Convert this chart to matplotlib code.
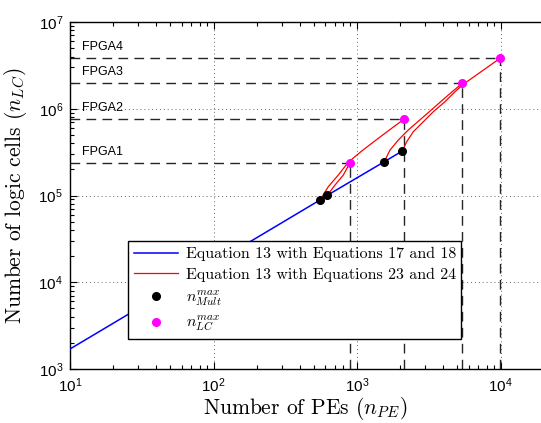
import math
import matplotlib
matplotlib.use("Agg")
import matplotlib.pyplot as plt
from matplotlib.ticker import LogLocator, FixedLocator, FuncFormatter, NullFormatter

plt.rcParams['mathtext.fontset'] = 'cm'
plt.rcParams['mathtext.rm'] = 'Liberation Sans'
plt.rcParams['axes.unicode_minus'] = False

# ---- data ----
blue_x = [10, 552, 621, 1549, 2069]
blue_y = [1.70e3, 8.87e4, 1.005e5, 2.45e5, 3.26e5]

red1_x = [621, 703, 803, 894]
red1_y = [1.005e5, 1.321e5, 1.723e5, 2.39e5]
red2_x = [552, 631, 741, 869, 1079, 1407, 1746, 2120]
red2_y = [8.87e4, 1.263e5, 1.723e5, 2.415e5, 3.26e5, 4.56e5, 5.96e5, 7.55e5]
red3_x = [1549, 1698, 1940, 2277, 2825, 3498, 4327, 5420]
red3_y = [2.45e5, 3.34e5, 4.36e5, 5.69e5, 7.76e5, 1.056e6, 1.44e6, 1.97e6]
red4_x = [2069, 2220, 2468, 2825, 3404, 4103, 4819, 5505, 7430, 9950]
red4_y = [3.26e5, 4.17e5, 5.44e5, 6.79e5, 9.25e5, 1.206e6, 1.573e6, 1.914e6, 2.72e6, 3.82e6]

mult_x = [552, 621, 1549, 2069]
mult_y = [8.87e4, 1.005e5, 2.45e5, 3.26e5]

lc_x = [894, 2120, 5420, 9950]
lc_y = [2.39e5, 7.55e5, 1.97e6, 3.82e6]
fpga_labels = ['FPGA1', 'FPGA2', 'FPGA3', 'FPGA4']

x_ticks = [1e1, 1e2, 1e3, 1e4, 1e5]
y_ticks = [1e3, 1e4, 1e5, 1e6, 1e7]

# ---- figure ----
W, H = 541, 423
fig = plt.figure(figsize=(W / 100, H / 100), dpi=100)
ax_l, ax_r, ax_t, ax_b = 70, 70 + 4 * 143.5, 22, 369
ax = fig.add_axes([ax_l / W, (H - ax_b) / H, (ax_r - ax_l) / W, (ax_b - ax_t) / H])
ax.set_xscale('log')
ax.set_yscale('log')
ax.set_xlim(x_ticks[0], x_ticks[-1])
ax.set_ylim(y_ticks[0], y_ticks[-1])

# grid (major, dotted)
ax.grid(True, which='major', linestyle=(0, (1, 3)), color='0.4', linewidth=0.7)
ax.set_axisbelow(True)

# FPGA dashed guide lines
dash_kw = dict(color='0.15', linewidth=1.0, dashes=(7, 4.5), zorder=2)
for xv, yv, lab in zip(lc_x, lc_y, fpga_labels):
    ax.plot([x_ticks[0], xv], [yv, yv], **dash_kw)
    ax.plot([xv, xv], [y_ticks[0], yv], **dash_kw)
    ax.annotate(lab, xy=(12.2, yv), xytext=(0, 3.5), textcoords='offset points',
                ha='left', va='bottom', fontsize=9, family='Liberation Sans')

# curves
ax.plot(blue_x, blue_y, color='#0000ff', linewidth=1.1, zorder=3,
        label='Equation 13 with Equations 17 and 18')
ax.plot(red1_x, red1_y, color='#ff0000', linewidth=0.9, zorder=3,
        label='Equation 13 with Equations 23 and 24')
for rx, ry in [(red2_x, red2_y), (red3_x, red3_y), (red4_x, red4_y)]:
    ax.plot(rx, ry, color='#ff0000', linewidth=0.9, zorder=3)

ax.plot(mult_x, mult_y, 'o', color='black', markersize=5.5, linestyle='none', zorder=4,
        label=r'$n_{Mult}^{max}$')
ax.plot(lc_x, lc_y, 'o', color='#ff00ff', markersize=5.5, linestyle='none', zorder=4,
        label=r'$n_{LC}^{max}$')

# ticks
ax.xaxis.set_major_locator(FixedLocator(x_ticks))
ax.yaxis.set_major_locator(FixedLocator(y_ticks))
ax.xaxis.set_minor_locator(LogLocator(base=10, subs=range(2, 10), numticks=20))
ax.yaxis.set_minor_locator(LogLocator(base=10, subs=range(2, 10), numticks=20))
ax.xaxis.set_minor_formatter(NullFormatter())
ax.yaxis.set_minor_formatter(NullFormatter())

def fmt_x(v, pos):
    if v > 2e4:
        return ''
    return r'$\mathregular{10^{%d}}$' % int(round(math.log10(v)))

def fmt_y(v, pos):
    return r'$\mathregular{10^{%d}}$' % int(round(math.log10(v)))

ax.xaxis.set_major_formatter(FuncFormatter(fmt_x))
ax.yaxis.set_major_formatter(FuncFormatter(fmt_y))
ax.tick_params(which='both', direction='in', top=True, right=True, width=0.8)
ax.tick_params(which='major', length=5, labelsize=11, pad=5)
ax.tick_params(which='minor', length=3)
for lbl in ax.get_xticklabels() + ax.get_yticklabels():
    lbl.set_family('Liberation Sans')
    lbl.set_math_fontfamily('custom')
for sp in ax.spines.values():
    sp.set_linewidth(1.0)

ax.set_xlabel(r'Number of PEs ($n_{PE}$)', family='cmr10', fontsize=15.5)
ax.set_ylabel(r'Number of logic cells ($n_{LC}$)', family='cmr10', fontsize=15.5)
ax.xaxis.set_label_coords((305 - ax_l) / (ax_r - ax_l), -0.075)
ax.yaxis.set_label_coords((29 - ax_l) / (ax_r - ax_l), 0.5)

leg = ax.legend(loc='lower left', bbox_to_anchor=(58 / 574, 30 / 347), borderaxespad=0,
                prop={'family': 'cmr10', 'size': 11.5}, frameon=True, fancybox=False,
                framealpha=1, edgecolor='black', handlelength=2.8, handletextpad=0.45,
                labelspacing=0.4, borderpad=0.35)
leg.get_frame().set_linewidth(1.0)
leg.set_zorder(10)

fig.savefig('out.png', dpi=100)
